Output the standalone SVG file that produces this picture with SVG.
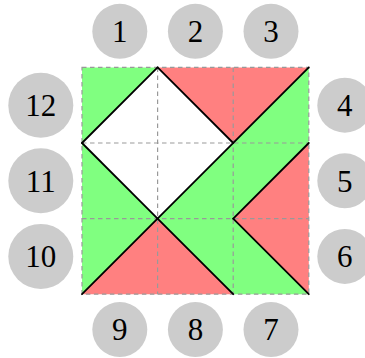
<svg xmlns="http://www.w3.org/2000/svg" width="365" height="358" viewBox="0 0 365 358">
<style>
.g{fill:#80ff80}
.r{fill:#ff8080}
.w{fill:#ffffff}
.grid{fill:none;stroke:#999999;stroke-width:1.2;stroke-dasharray:4.5 3.5}
.edge{fill:none;stroke:#000000;stroke-width:1.8;stroke-linecap:round;stroke-linejoin:round}
.node circle{fill:#cccccc}
.node text{font-family:"Liberation Serif","DejaVu Serif",serif;font-size:31px;fill:#000000;text-anchor:middle}
</style>
<rect width="365" height="358" fill="#ffffff"/>
<g id="regions">
<polygon class="g" points="82,67.4 157.6,67.4 82,143"/>
<polygon class="w" points="82,143 157.6,67.4 233.2,143 157.6,218.6"/>
<polygon class="r" points="157.6,67.4 308.8,67.4 233.2,143"/>
<polygon class="g" points="157.6,218.6 308.8,67.4 308.8,143 233.2,218.6 308.8,294.2 233.2,294.2"/>
<polygon class="r" points="308.8,143 308.8,294.2 233.2,218.6"/>
<polygon class="g" points="82,143 157.6,218.6 82,294.2"/>
<polygon class="r" points="82,294.2 157.6,218.6 233.2,294.2"/>
</g>
<g id="grid">
<rect class="grid" x="82" y="67.4" width="226.8" height="226.8"/>
<line class="grid" x1="157.6" y1="67.4" x2="157.6" y2="294.2"/>
<line class="grid" x1="233.2" y1="67.4" x2="233.2" y2="294.2"/>
<line class="grid" x1="82" y1="143" x2="308.8" y2="143"/>
<line class="grid" x1="82" y1="218.6" x2="308.8" y2="218.6"/>
</g>
<g id="connectors">
<line class="edge" x1="82" y1="143" x2="157.6" y2="67.4"/>
<line class="edge" x1="157.6" y1="67.4" x2="233.2" y2="143"/>
<line class="edge" x1="82" y1="143" x2="157.6" y2="218.6"/>
<line class="edge" x1="82" y1="294.2" x2="308.8" y2="67.4"/>
<line class="edge" x1="157.6" y1="218.6" x2="233.2" y2="294.2"/>
<line class="edge" x1="308.8" y1="143" x2="233.2" y2="218.6"/>
<line class="edge" x1="233.2" y1="218.6" x2="308.8" y2="294.2"/>
</g>
<g id="n1" class="node"><circle cx="119.8" cy="31.3" r="27.5"/><text x="119.8" y="42">1</text></g>
<g id="n2" class="node"><circle cx="195.4" cy="31.3" r="27.5"/><text x="195.4" y="42">2</text></g>
<g id="n3" class="node"><circle cx="271" cy="31.3" r="27.5"/><text x="271" y="42">3</text></g>
<g id="n4" class="node"><circle cx="344.8" cy="105.2" r="27.5"/><text x="344.8" y="115.9">4</text></g>
<g id="n5" class="node"><circle cx="344.8" cy="180.8" r="27.5"/><text x="344.8" y="191.5">5</text></g>
<g id="n6" class="node"><circle cx="344.8" cy="256.4" r="27.5"/><text x="344.8" y="267.1">6</text></g>
<g id="n7" class="node"><circle cx="271" cy="329.6" r="27.5"/><text x="271" y="340.3">7</text></g>
<g id="n8" class="node"><circle cx="195.4" cy="329.6" r="27.5"/><text x="195.4" y="340.3">8</text></g>
<g id="n9" class="node"><circle cx="119.8" cy="329.6" r="27.5"/><text x="119.8" y="340.3">9</text></g>
<g id="n10" class="node"><circle cx="40.8" cy="256.4" r="32.5"/><text x="40.8" y="267.1">10</text></g>
<g id="n11" class="node"><circle cx="40.8" cy="180.8" r="32.5"/><text x="40.8" y="191.5">11</text></g>
<g id="n12" class="node"><circle cx="40.8" cy="105.2" r="32.5"/><text x="40.8" y="115.9">12</text></g>
</svg>
